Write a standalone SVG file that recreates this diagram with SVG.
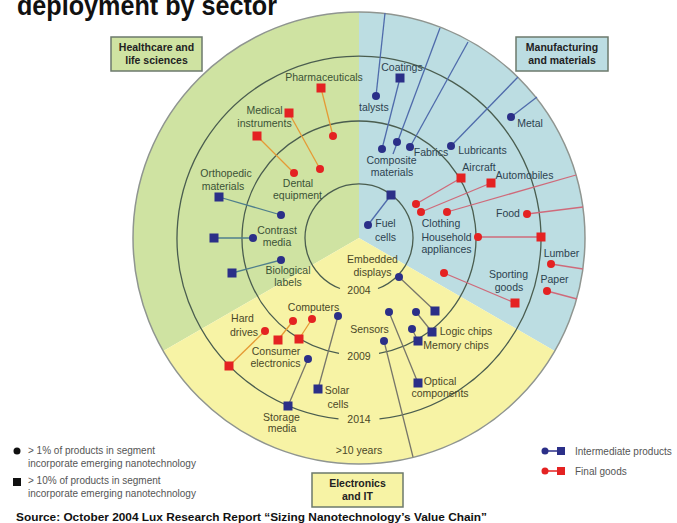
<svg xmlns="http://www.w3.org/2000/svg" width="677" height="523" viewBox="0 0 677 523">
<style>
text{font-family:"Liberation Sans",Arial,Helvetica,sans-serif}
.lbl{font-size:10.5px;text-anchor:middle}
.lg{fill:#3b5236}
.lb{fill:#2c4250}
.ly{fill:#4a4828}
.ring{fill:none;stroke:#4a5d4f;stroke-width:1.3}
.db{fill:#2b2f88}
.dr{fill:#e42222}
.cb{stroke:#4f6bab;stroke-width:1.3;fill:none}
.ct{stroke:#4f7f8c;stroke-width:1.3;fill:none}
.cg{stroke:#77766a;stroke-width:1.3;fill:none}
.co{stroke:#e59a35;stroke-width:1.3;fill:none}
.cp{stroke:#cf6a7a;stroke-width:1.3;fill:none}
.box{stroke:#6c7a6c;stroke-width:1.5}
.bt{font-size:10.5px;font-weight:bold;text-anchor:middle;fill:#222}
.leg{font-size:10px;fill:#555}
</style>
<defs>
<circle id="d" r="4"/>
<rect id="s" x="-4.5" y="-4.5" width="9" height="9"/>
</defs>
<rect width="677" height="523" fill="#fff"/>
<text x="17" y="15" font-size="28" font-weight="bold" fill="#111" textLength="260" lengthAdjust="spacingAndGlyphs">deployment by sector</text>

<g id="sectors">
<path d="M359,238 L359,12 A226,226 0 0 0 163.3,351 Z" fill="#cfe3a2"/>
<path d="M359,238 L359,12 A226,226 0 0 1 554.7,351 Z" fill="#bcdde2"/>
<path d="M359,238 L163.3,351 A226,226 0 0 0 554.7,351 Z" fill="#f7f3a5"/>
<circle cx="359" cy="238" r="226" fill="none" stroke="#8f9590" stroke-width="1.5"/>
</g>
<g id="rings">
<path class="ring" d="M340,288.5 A54,54 0 1 1 378,288.5"/>
<path class="ring" d="M339,353.3 A117,117 0 1 1 379,353.3"/>
<path class="ring" d="M338.5,418.9 A182,182 0 1 1 379.5,418.9"/>
<text class="lbl ly" x="359" y="294">2004</text>
<text class="lbl ly" x="359" y="360">2009</text>
<text class="lbl ly" x="359" y="423">2014</text>
<text class="lbl ly" x="359" y="454">&gt;10 years</text>
</g>

<g id="connectors">
<line class="co" x1="321" y1="88" x2="333" y2="136"/>
<line class="co" x1="289" y1="113" x2="320" y2="169"/>
<line class="co" x1="257" y1="136" x2="294" y2="173"/>
<line class="ct" x1="219" y1="197" x2="281" y2="215"/>
<line class="ct" x1="214" y1="238" x2="253" y2="238"/>
<line class="ct" x1="232" y1="273" x2="281" y2="260"/>
<line class="cb" x1="376" y1="96" x2="385" y2="13"/>
<line class="cb" x1="400" y1="78" x2="382" y2="149"/>
<line class="cb" x1="393" y1="154" x2="440" y2="28"/>
<line class="cb" x1="410" y1="147" x2="468" y2="42"/>
<line class="cb" x1="451" y1="146" x2="518" y2="77"/>
<line class="cb" x1="511" y1="117" x2="537" y2="97"/>
<line class="cb" x1="391" y1="195" x2="368" y2="225"/>
<line class="cp" x1="461" y1="178" x2="416" y2="204"/>
<line class="cp" x1="491" y1="183" x2="421" y2="212"/>
<line class="cp" x1="447" y1="212" x2="576" y2="175"/>
<line class="cp" x1="527" y1="214" x2="583" y2="207"/>
<line class="cp" x1="478" y1="237" x2="541" y2="237"/>
<line class="cp" x1="551" y1="264" x2="583" y2="269"/>
<line class="cp" x1="547" y1="291" x2="577" y2="299"/>
<line class="cp" x1="444" y1="273" x2="515" y2="303"/>
<line class="cg" x1="399" y1="277" x2="435" y2="311"/>
<line class="cg" x1="416" y1="312" x2="432" y2="332"/>
<line class="cg" x1="412" y1="329" x2="418" y2="341"/>
<line class="cg" x1="389" y1="312" x2="418" y2="383"/>
<line class="cg" x1="384" y1="341" x2="413" y2="457"/>
<line class="cg" x1="338" y1="316" x2="318" y2="389"/>
<line class="cg" x1="308" y1="359" x2="288" y2="406"/>
<line class="co" x1="293" y1="321" x2="278" y2="340"/>
<line class="co" x1="312" y1="319" x2="299" y2="339"/>
<line class="co" x1="265" y1="331" x2="229" y2="366"/>
</g>

<g id="pharmaceuticals"><text class="lbl lg" x="324" y="81">Pharmaceuticals</text><use href="#s" class="dr" x="321" y="88"/><use href="#d" class="dr" x="333" y="136"/></g>
<g id="medical-instruments"><text class="lbl lg" x="264.5" y="114">Medical</text><text class="lbl lg" x="264.5" y="127">instruments</text><use href="#s" class="dr" x="289" y="113"/><use href="#s" class="dr" x="257" y="136"/></g>
<g id="dental-equipment"><text class="lbl lg" x="298" y="187">Dental</text><text class="lbl lg" x="297.5" y="199">equipment</text><use href="#d" class="dr" x="320" y="169"/><use href="#d" class="dr" x="294" y="173"/></g>
<g id="orthopedic-materials"><text class="lbl lg" x="226" y="177">Orthopedic</text><text class="lbl lg" x="223" y="190">materials</text><use href="#s" class="db" x="219" y="197"/><use href="#d" class="db" x="281" y="215"/></g>
<g id="contrast-media"><text class="lbl lg" x="277" y="234">Contrast</text><text class="lbl lg" x="277" y="246">media</text><use href="#s" class="db" x="214" y="238"/><use href="#d" class="db" x="253" y="238"/></g>
<g id="biological-labels"><text class="lbl lg" x="288" y="274">Biological</text><text class="lbl lg" x="288" y="286">labels</text><use href="#s" class="db" x="232" y="273"/><use href="#d" class="db" x="281" y="260"/></g>

<g id="catalysts"><text class="lbl lb" x="359" y="111" style="text-anchor:start">talysts</text><use href="#d" class="db" x="376" y="96"/></g>
<g id="coatings"><text class="lbl lb" x="402" y="71">Coatings</text><use href="#s" class="db" x="400" y="78"/></g>
<g id="composite-materials"><text class="lbl lb" x="391.5" y="164">Composite</text><text class="lbl lb" x="392" y="176">materials</text><use href="#d" class="db" x="382" y="149"/><use href="#d" class="db" x="397" y="142"/></g>
<g id="fabrics"><text class="lbl lb" x="431" y="156">Fabrics</text><use href="#d" class="db" x="410" y="147"/></g>
<g id="lubricants"><text class="lbl lb" x="482.5" y="154">Lubricants</text><use href="#d" class="db" x="451" y="146"/></g>
<g id="metal"><text class="lbl lb" x="530" y="127">Metal</text><use href="#d" class="db" x="511" y="117"/></g>
<g id="fuel-cells"><text class="lbl lb" x="385.5" y="227">Fuel</text><text class="lbl lb" x="385.5" y="241">cells</text><use href="#s" class="db" x="391" y="195"/><use href="#d" class="db" x="368" y="225"/></g>
<g id="aircraft"><text class="lbl lb" x="479" y="171">Aircraft</text><use href="#s" class="dr" x="461" y="178"/></g>
<g id="automobiles"><text class="lbl lb" x="524.5" y="179">Automobiles</text><use href="#s" class="dr" x="491" y="183"/></g>
<g id="clothing"><text class="lbl lb" x="441" y="227">Clothing</text><use href="#d" class="dr" x="416" y="204"/><use href="#d" class="dr" x="421" y="212"/><use href="#d" class="dr" x="447" y="212"/></g>
<g id="household-appliances"><text class="lbl lb" x="446.5" y="241">Household</text><text class="lbl lb" x="446.5" y="253">appliances</text><use href="#d" class="dr" x="478" y="237"/><use href="#s" class="dr" x="541" y="237"/></g>
<g id="food"><text class="lbl lb" x="508" y="217">Food</text><use href="#d" class="dr" x="527" y="214"/></g>
<g id="lumber"><text class="lbl lb" x="561.5" y="257">Lumber</text><use href="#d" class="dr" x="551" y="264"/></g>
<g id="paper"><text class="lbl lb" x="554.5" y="283">Paper</text><use href="#d" class="dr" x="547" y="291"/></g>
<g id="sporting-goods"><text class="lbl lb" x="508.5" y="278">Sporting</text><text class="lbl lb" x="509" y="291">goods</text><use href="#d" class="dr" x="444" y="273"/><use href="#s" class="dr" x="515" y="303"/></g>

<g id="embedded-displays"><text class="lbl ly" x="372.5" y="263">Embedded</text><text class="lbl ly" x="372.5" y="276">displays</text><use href="#d" class="db" x="399" y="277"/><use href="#s" class="db" x="435" y="311"/></g>
<g id="logic-chips"><text class="lbl ly" x="466" y="335">Logic chips</text><use href="#d" class="db" x="416" y="312"/><use href="#s" class="db" x="432" y="332"/></g>
<g id="memory-chips"><text class="lbl ly" x="456" y="349">Memory chips</text><use href="#d" class="db" x="412" y="329"/><use href="#s" class="db" x="418" y="341"/></g>
<g id="sensors"><text class="lbl ly" x="369.5" y="333">Sensors</text><use href="#d" class="db" x="389" y="312"/><use href="#d" class="db" x="384" y="341"/></g>
<g id="optical-components"><text class="lbl ly" x="440" y="385">Optical</text><text class="lbl ly" x="440" y="397">components</text><use href="#s" class="db" x="418" y="383"/></g>
<g id="solar-cells"><text class="lbl ly" x="337" y="394">Solar</text><text class="lbl ly" x="338" y="408">cells</text><use href="#d" class="db" x="338" y="316"/><use href="#s" class="db" x="318" y="389"/></g>
<g id="storage-media"><text class="lbl ly" x="281.5" y="421">Storage</text><text class="lbl ly" x="282" y="432">media</text><use href="#d" class="db" x="308" y="359"/><use href="#s" class="db" x="288" y="406"/></g>
<g id="computers"><text class="lbl ly" x="313.5" y="311">Computers</text><use href="#d" class="dr" x="293" y="321"/><use href="#d" class="dr" x="312" y="319"/></g>
<g id="consumer-electronics"><text class="lbl ly" x="276" y="355">Consumer</text><text class="lbl ly" x="275.5" y="367">electronics</text><use href="#s" class="dr" x="278" y="340"/><use href="#s" class="dr" x="299" y="339"/></g>
<g id="hard-drives"><text class="lbl ly" x="242.5" y="322">Hard</text><text class="lbl ly" x="244" y="336">drives</text><use href="#d" class="dr" x="265" y="331"/><use href="#s" class="dr" x="229" y="366"/></g>

<g id="box-healthcare"><rect class="box" x="111" y="37" width="91" height="34" fill="#cfe3a2"/><text class="bt" x="156.5" y="51">Healthcare and</text><text class="bt" x="156.5" y="64">life sciences</text></g>
<g id="box-manufacturing"><rect class="box" x="516" y="37" width="92" height="34" fill="#bcdde2"/><text class="bt" x="562" y="51">Manufacturing</text><text class="bt" x="562" y="64">and materials</text></g>
<g id="box-electronics"><rect class="box" x="312" y="473" width="91" height="34" fill="#f7f3a5"/><text class="bt" x="357.5" y="487">Electronics</text><text class="bt" x="357.5" y="500">and IT</text></g>

<g id="legend-left">
<circle cx="17" cy="451" r="3.5" fill="#111"/>
<text class="leg" x="28" y="454">&gt; 1% of products in segment</text>
<text class="leg" x="28" y="467">incorporate emerging nanotechnology</text>
<rect x="13" y="478" width="8" height="8" fill="#111"/>
<text class="leg" x="28" y="484">&gt; 10% of products in segment</text>
<text class="leg" x="28" y="497">incorporate emerging nanotechnology</text>
</g>
<g id="legend-right">
<line x1="545" y1="451" x2="561" y2="451" stroke="#2b2f88" stroke-width="1.5"/>
<circle cx="545" cy="451" r="3.5" fill="#2b2f88"/><rect x="557" y="447" width="8" height="8" fill="#2b2f88"/>
<text class="leg" x="575" y="455">Intermediate products</text>
<line x1="545" y1="471" x2="561" y2="471" stroke="#e42222" stroke-width="1.5"/>
<circle cx="545" cy="471" r="3.5" fill="#e42222"/><rect x="557" y="467" width="8" height="8" fill="#e42222"/>
<text class="leg" x="575" y="475">Final goods</text>
</g>
<text x="16" y="521" font-size="11.5" font-weight="bold" fill="#111" textLength="471" lengthAdjust="spacingAndGlyphs">Source: October 2004 Lux Research Report “Sizing Nanotechnology’s Value Chain”</text>
</svg>
